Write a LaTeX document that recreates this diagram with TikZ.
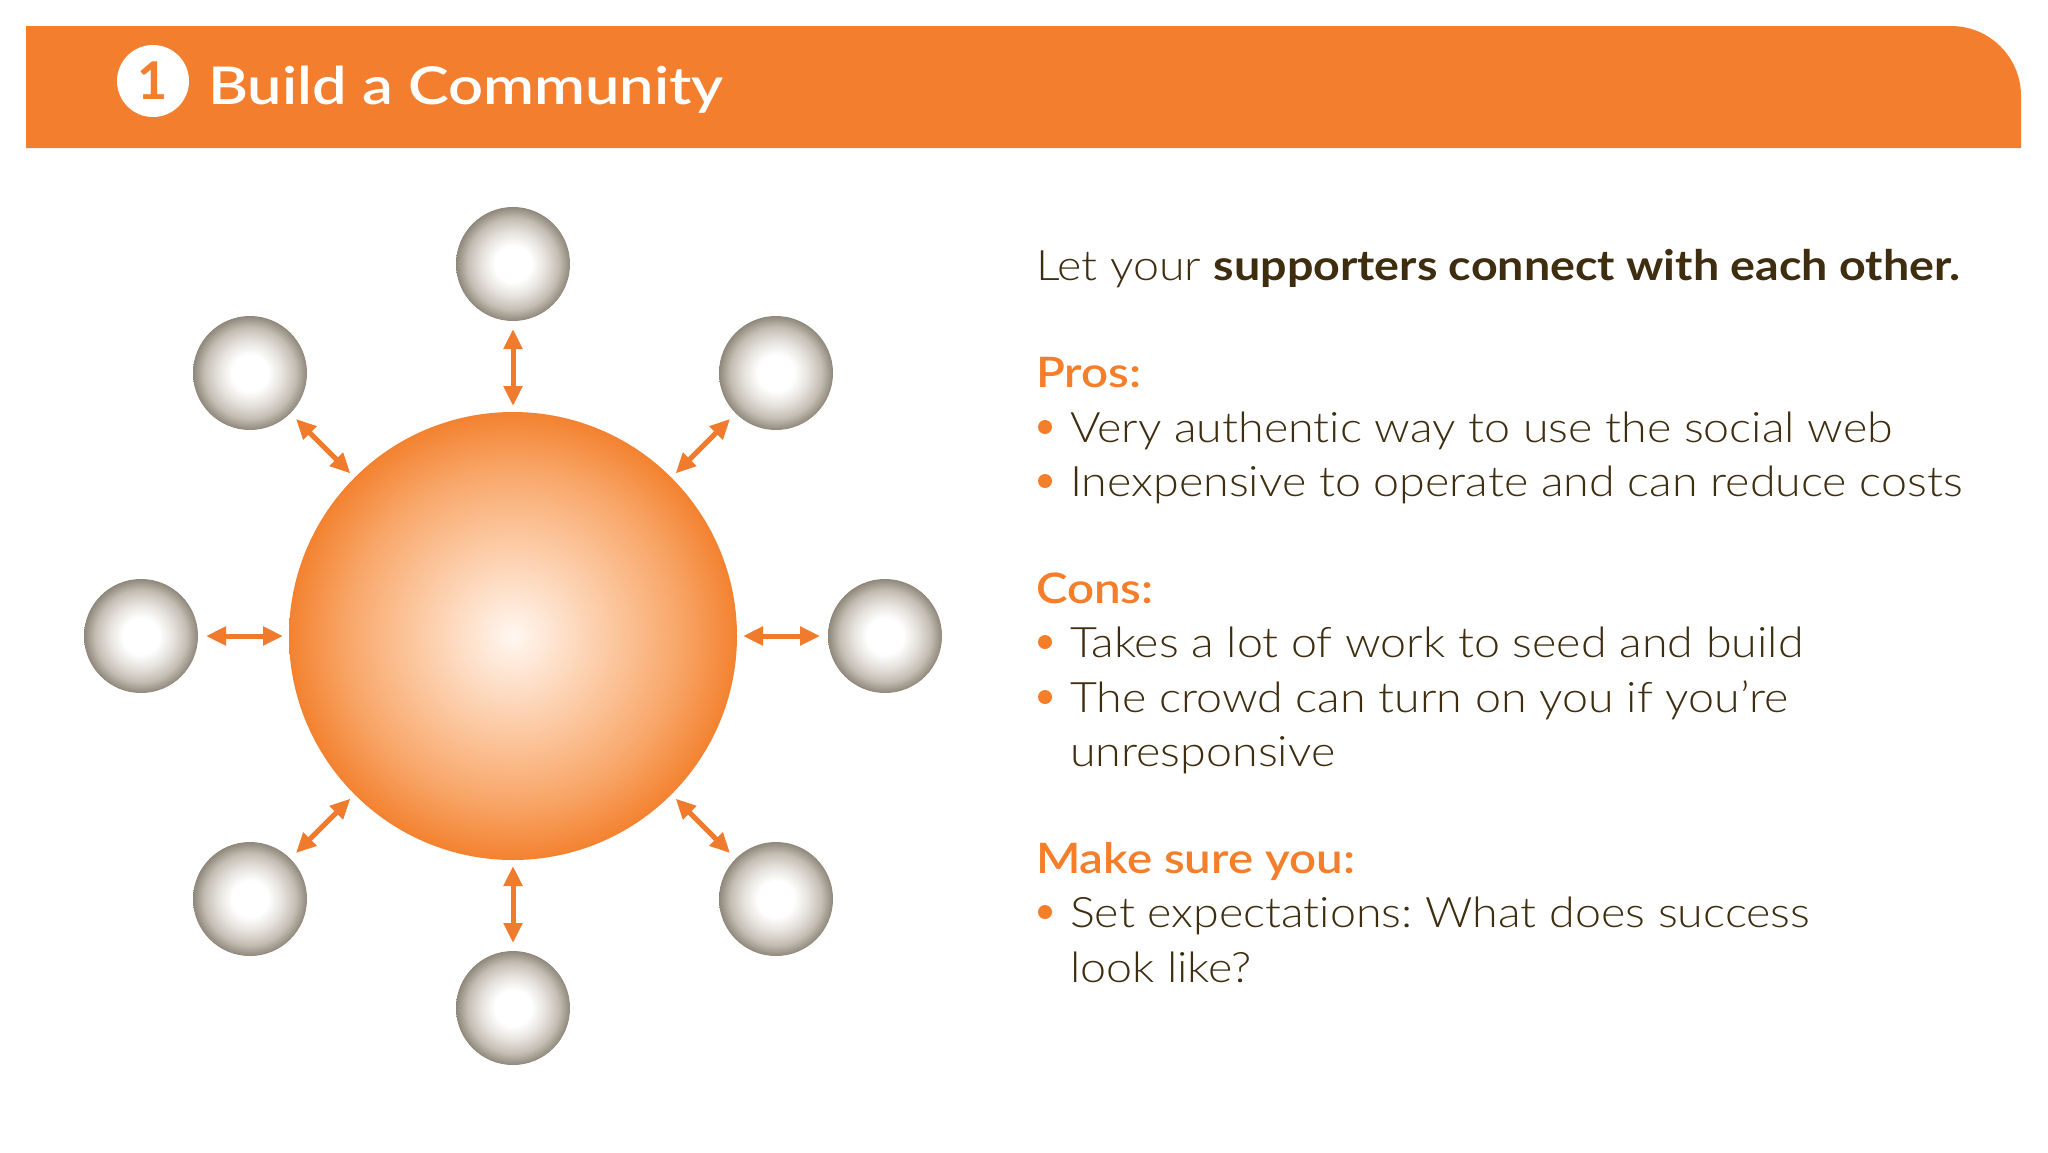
\documentclass[tikz,border=0pt]{standalone}
\usepackage{fontspec}
\setmainfont{Lato Light}[FakeStretch=1.11, Ligatures={NoCommon}, BoldFont={Lato Bold}, BoldFeatures={FakeStretch=1.11}]
\newfontfamily\semibold{Lato Semibold}[FakeStretch=1.13, Ligatures={NoCommon}]
\newfontfamily\titlefont{Lato Semibold}[FakeStretch=1.18, Ligatures={NoCommon}]
\newfontfamily\numfont{Lato Bold}
\usetikzlibrary{arrows.meta}
\definecolor{hdr}{HTML}{F37E2E}
\definecolor{txt}{HTML}{3F2D10}
\definecolor{org}{HTML}{F47E2A}
\definecolor{arr}{HTML}{F07B2C}
\definecolor{oca}{HTML}{FFF7F1}
\definecolor{ocb}{HTML}{FDDCC3}
\definecolor{occ}{HTML}{FBC195}
\definecolor{ocd}{HTML}{F8A567}
\definecolor{oce}{HTML}{F38230}
\definecolor{gca}{HTML}{E6E3DE}
\definecolor{gcb}{HTML}{C4BEB4}
\definecolor{gcc}{HTML}{8F877A}
\pgfdeclareradialshading{orangeball}{\pgfpoint{0bp}{0bp}}{color(0bp)=(oca); color(6.25bp)=(ocb); color(12.5bp)=(occ); color(18.75bp)=(ocd); color(25bp)=(oce); color(30bp)=(oce)}
\pgfdeclareradialshading{grayball}{\pgfpoint{0bp}{0bp}}{color(0bp)=(white); color(8bp)=(white); color(14bp)=(gca); color(20bp)=(gcb); color(25bp)=(gcc); color(30bp)=(gcc)}
\begin{document}
\frenchspacing
\begin{tikzpicture}[x=1pt,y=-1pt,
  bigball/.style={circle, minimum size=448pt, inner sep=0pt, outer sep=0pt, shading=orangeball},
  smallball/.style={circle, minimum size=114pt, inner sep=0pt, outer sep=0pt, shading=grayball},
  biarrow/.style={draw=arr, line width=5pt, {Triangle[length=20pt,width=18pt]}-{Triangle[length=20pt,width=18pt]}, shorten <=6pt, shorten >=8pt},
  bodyline/.style={anchor=base west, inner sep=0pt, outer sep=0pt, text=txt, font=\fontsize{42}{42}\selectfont},
  headline/.style={anchor=base west, inner sep=0pt, outer sep=0pt, text=org, font=\fontsize{42}{42}\semibold},
  bulletdot/.style={circle, fill=org, minimum size=14pt, inner sep=0pt}
]
\useasboundingbox (0,0) rectangle (2048,1152);
\fill[white] (0,0) rectangle (2048,1152);
% header
\fill[hdr] (26,148) -- (26,26) -- (1951,26) .. controls (1989.7,26) and (2021,57.3) .. (2021,96) -- (2021,148) -- cycle;
\node[circle, fill=white, minimum size=72pt, inner sep=0pt, text=hdr, font=\fontsize{52}{52}\numfont] (num) at (153,81) {1};
\node[anchor=base west, inner sep=0pt, text=white, font=\fontsize{52}{52}\titlefont] (title) at (208,104) {Build a Community};
% spheres
\node[bigball] (hub) at (513,636) {};
\node[smallball] (n) at (513,264) {};
\node[smallball] (ne) at (776,373) {};
\node[smallball] (e) at (885,636) {};
\node[smallball] (se) at (776,899) {};
\node[smallball] (s) at (513,1008) {};
\node[smallball] (sw) at (250,899) {};
\node[smallball] (w) at (141,636) {};
\node[smallball] (nw) at (250,373) {};
\foreach \t in {n,ne,e,se,s,sw,w,nw}{
  \draw[biarrow] (hub) -- (\t);
}
% text
\node[bodyline] (intro) at (1036,280) {Let your \textbf{supporters connect with each other.}};
\node[headline] (pros) at (1036,387) {Pros:};
\node[bulletdot] (b1) at (1045,427) {};
\node[bodyline] (p1) at (1070,442) {Very authentic way to use the social web};
\node[bulletdot] (b2) at (1045,481) {};
\node[bodyline] (p2) at (1070,496) {Inexpensive to operate and can reduce costs};
\node[headline] (cons) at (1036,603) {Cons:};
\node[bulletdot] (b3) at (1045,642) {};
\node[bodyline] (c1) at (1070,657) {Takes a lot of work to seed and build};
\node[bulletdot] (b4) at (1045,697) {};
\node[bodyline] (c2) at (1070,712) {The crowd can turn on you if you’re};
\node[bodyline] (c3) at (1070,766) {unresponsive};
\node[headline] (make) at (1036,873) {Make sure you:};
\node[bulletdot] (b5) at (1045,912) {};
\node[bodyline] (m1) at (1070,927) {Set expectations: What does success};
\node[bodyline] (m2) at (1070,982) {look like?};
\end{tikzpicture}
\end{document}
